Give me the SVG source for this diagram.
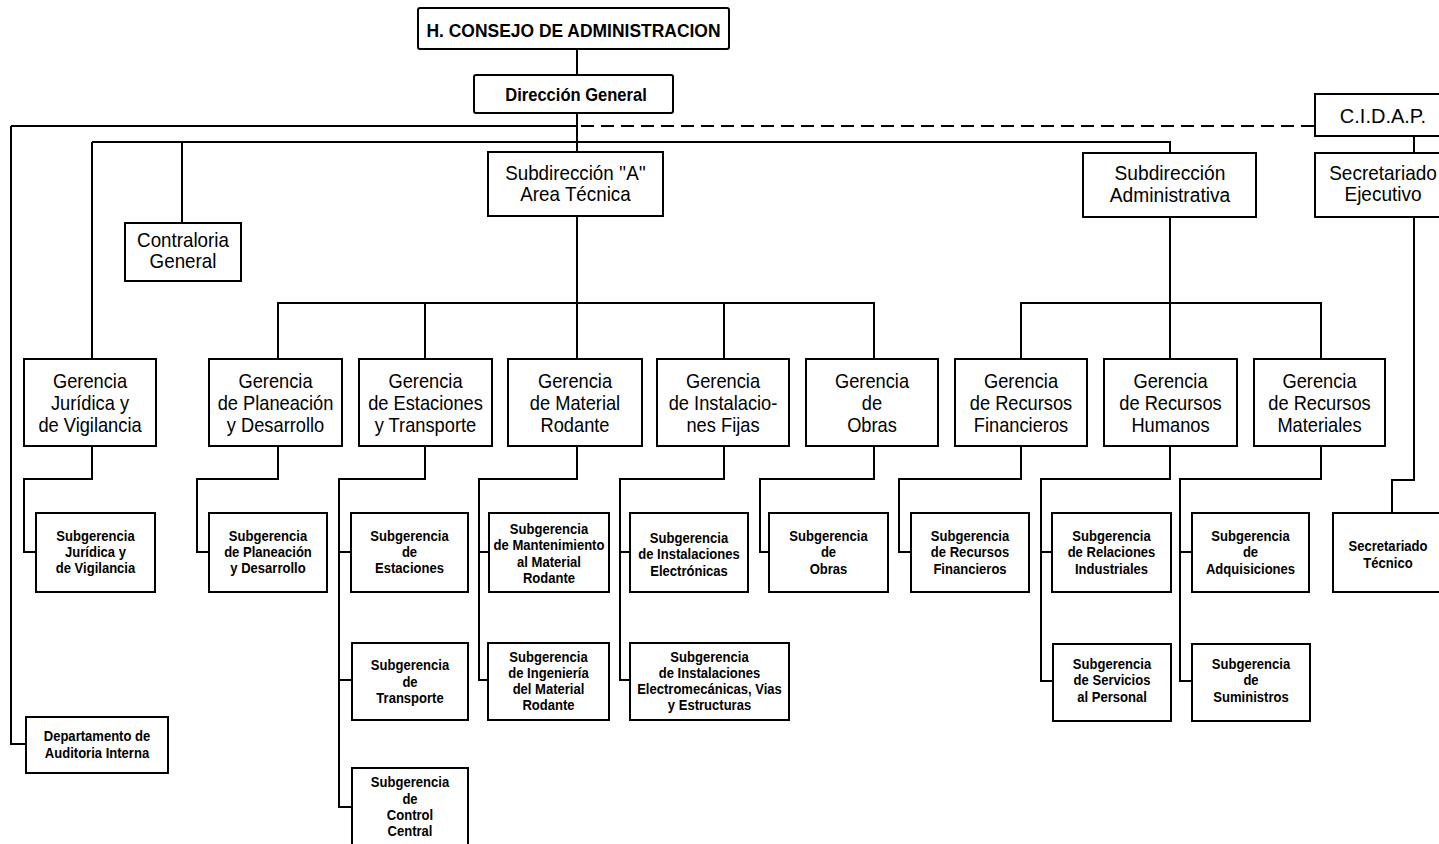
<svg xmlns="http://www.w3.org/2000/svg" width="1439" height="844" viewBox="0 0 1439 844">
<style>
rect{fill:#fff;stroke:#000;stroke-width:2}
.c path{fill:none;stroke:#000;stroke-width:2}
.c .d{stroke-dasharray:13 7}
text{font-family:"Liberation Sans",Arial,sans-serif;fill:#000;text-anchor:middle}
.t{font-size:18px;font-weight:bold}
.sd{font-size:20px}
.g{font-size:21px}
.s{font-size:15px;font-weight:bold}
</style>
<rect width="1439" height="844" style="stroke:none"/>
<g class="c">
<path d="M577,49V75M577,113V152M11,126H577M11,126V744H26M92,142H1170V153M92,142V359M182,142V223M577,216V303"/>
<path class="d" d="M581,126H1315"/>
<path d="M278,359V303H874V359M425,303V359M577,303V359M724,303V359"/>
<path d="M1170,217V303M1021,359V303H1321V359M1170,303V359"/>
<path d="M1414,136V153M1414,217V480H1392V514"/>
<path d="M92,446V479H24V552H36"/>
<path d="M278,446V479H197V552H209"/>
<path d="M425,446V479H339V807H352M339,552H351M339,680H352"/>
<path d="M577,446V479H479V680H488M479,552H489"/>
<path d="M724,446V479H620V680H630M620,552H630"/>
<path d="M874,446V479H760V552H769"/>
<path d="M1021,446V479H899V552H911"/>
<path d="M1170,446V479H1041V681H1053M1041,552H1052"/>
<path d="M1321,446V479H1180V681H1192M1180,552H1192"/>
</g>
<g id="consejo"><rect x="418" y="8" width="311" height="41" rx="2"/><text class="t" transform="matrix(0.97 0 0 1 573.5 0)"><tspan x="0" y="37">H. CONSEJO DE ADMINISTRACION</tspan></text></g>
<g id="direccion"><rect x="474" y="75" width="199" height="38" rx="2"/><text class="t" transform="matrix(0.92 0 0 1 576 0)"><tspan x="0" y="101">Dirección General</tspan></text></g>
<g id="cidap"><rect x="1315" y="94" width="136" height="42"/><text class="sd" transform="matrix(1 0 0 1 1383 0)"><tspan x="0" y="123">C.I.D.A.P.</tspan></text></g>
<g id="subA"><rect x="488" y="152" width="175" height="64"/><text class="sd" transform="matrix(0.94 0 0 1 575.5 0)"><tspan x="0" y="180">Subdirección ''A''</tspan><tspan x="0" y="201">Area Técnica</tspan></text></g>
<g id="subAdm"><rect x="1083" y="153" width="173" height="64"/><text class="sd" transform="matrix(0.96 0 0 1 1170 0)"><tspan x="0" y="180">Subdirección</tspan><tspan x="0" y="202">Administrativa</tspan></text></g>
<g id="secEj"><rect x="1315" y="153" width="136" height="64"/><text class="sd" transform="matrix(0.95 0 0 1 1383 0)"><tspan x="0" y="180">Secretariado</tspan><tspan x="0" y="201">Ejecutivo</tspan></text></g>
<g id="contraloria"><rect x="125" y="223" width="116" height="58"/><text class="sd" transform="matrix(0.94 0 0 1 183 0)"><tspan x="0" y="247">Contraloria</tspan><tspan x="0" y="268">General</tspan></text></g>

<g id="gJuridica"><rect x="24" y="359" width="132" height="87"/><text class="g" transform="matrix(0.87 0 0 1 90 0)"><tspan x="0" y="388">Gerencia</tspan><tspan x="0" y="410">Jurídica y</tspan><tspan x="0" y="432">de Vigilancia</tspan></text></g>
<g id="gPlaneacion"><rect x="209" y="359" width="133" height="87"/><text class="g" transform="matrix(0.87 0 0 1 275.5 0)"><tspan x="0" y="388">Gerencia</tspan><tspan x="0" y="410">de Planeación</tspan><tspan x="0" y="432">y Desarrollo</tspan></text></g>
<g id="gEstaciones"><rect x="359" y="359" width="133" height="87"/><text class="g" transform="matrix(0.87 0 0 1 425.5 0)"><tspan x="0" y="388">Gerencia</tspan><tspan x="0" y="410">de Estaciones</tspan><tspan x="0" y="432">y Transporte</tspan></text></g>
<g id="gMaterial"><rect x="508" y="359" width="134" height="87"/><text class="g" transform="matrix(0.87 0 0 1 575 0)"><tspan x="0" y="388">Gerencia</tspan><tspan x="0" y="410">de Material</tspan><tspan x="0" y="432">Rodante</tspan></text></g>
<g id="gInstalaciones"><rect x="657" y="359" width="132" height="87"/><text class="g" transform="matrix(0.87 0 0 1 723 0)"><tspan x="0" y="388">Gerencia</tspan><tspan x="0" y="410">de Instalacio-</tspan><tspan x="0" y="432">nes Fijas</tspan></text></g>
<g id="gObras"><rect x="806" y="359" width="132" height="87"/><text class="g" transform="matrix(0.87 0 0 1 872 0)"><tspan x="0" y="388">Gerencia</tspan><tspan x="0" y="410">de</tspan><tspan x="0" y="432">Obras</tspan></text></g>
<g id="gFinancieros"><rect x="955" y="359" width="132" height="87"/><text class="g" transform="matrix(0.87 0 0 1 1021 0)"><tspan x="0" y="388">Gerencia</tspan><tspan x="0" y="410">de Recursos</tspan><tspan x="0" y="432">Financieros</tspan></text></g>
<g id="gHumanos"><rect x="1104" y="359" width="133" height="87"/><text class="g" transform="matrix(0.87 0 0 1 1170.5 0)"><tspan x="0" y="388">Gerencia</tspan><tspan x="0" y="410">de Recursos</tspan><tspan x="0" y="432">Humanos</tspan></text></g>
<g id="gMateriales"><rect x="1254" y="359" width="131" height="87"/><text class="g" transform="matrix(0.87 0 0 1 1319.5 0)"><tspan x="0" y="388">Gerencia</tspan><tspan x="0" y="410">de Recursos</tspan><tspan x="0" y="432">Materiales</tspan></text></g>

<g id="sJuridica"><rect x="36" y="513" width="119" height="79"/><text class="s" transform="matrix(0.87 0 0 1 95.5 0)"><tspan x="0" y="541">Subgerencia</tspan><tspan x="0" y="557">Jurídica y</tspan><tspan x="0" y="573">de Vigilancia</tspan></text></g>
<g id="sPlaneacion"><rect x="209" y="513" width="118" height="79"/><text class="s" transform="matrix(0.87 0 0 1 268 0)"><tspan x="0" y="541">Subgerencia</tspan><tspan x="0" y="557">de Planeación</tspan><tspan x="0" y="573">y Desarrollo</tspan></text></g>
<g id="sEstaciones"><rect x="351" y="513" width="117" height="79"/><text class="s" transform="matrix(0.87 0 0 1 409.5 0)"><tspan x="0" y="541">Subgerencia</tspan><tspan x="0" y="557">de</tspan><tspan x="0" y="573">Estaciones</tspan></text></g>
<g id="sMantenimiento"><rect x="489" y="513" width="120" height="79"/><text class="s" transform="matrix(0.87 0 0 1 549 0)"><tspan x="0" y="534">Subgerencia</tspan><tspan x="0" y="550">de Mantenimiento</tspan><tspan x="0" y="567">al Material</tspan><tspan x="0" y="583">Rodante</tspan></text></g>
<g id="sElectronicas"><rect x="630" y="513" width="118" height="79"/><text class="s" transform="matrix(0.87 0 0 1 689 0)"><tspan x="0" y="543">Subgerencia</tspan><tspan x="0" y="559">de Instalaciones</tspan><tspan x="0" y="576">Electrónicas</tspan></text></g>
<g id="sObras"><rect x="769" y="513" width="119" height="79"/><text class="s" transform="matrix(0.87 0 0 1 828.5 0)"><tspan x="0" y="541">Subgerencia</tspan><tspan x="0" y="557">de</tspan><tspan x="0" y="574">Obras</tspan></text></g>
<g id="sFinancieros"><rect x="911" y="513" width="118" height="79"/><text class="s" transform="matrix(0.87 0 0 1 970 0)"><tspan x="0" y="541">Subgerencia</tspan><tspan x="0" y="557">de Recursos</tspan><tspan x="0" y="574">Financieros</tspan></text></g>
<g id="sRelaciones"><rect x="1052" y="513" width="119" height="79"/><text class="s" transform="matrix(0.87 0 0 1 1111.5 0)"><tspan x="0" y="541">Subgerencia</tspan><tspan x="0" y="557">de Relaciones</tspan><tspan x="0" y="574">Industriales</tspan></text></g>
<g id="sAdquisiciones"><rect x="1192" y="513" width="117" height="79"/><text class="s" transform="matrix(0.87 0 0 1 1250.5 0)"><tspan x="0" y="541">Subgerencia</tspan><tspan x="0" y="557">de</tspan><tspan x="0" y="574">Adquisiciones</tspan></text></g>
<g id="secTecnico"><rect x="1333" y="513" width="112" height="79"/><text class="s" transform="matrix(0.87 0 0 1 1388 0)"><tspan x="0" y="551">Secretariado</tspan><tspan x="0" y="568">Técnico</tspan></text></g>

<g id="sTransporte"><rect x="352" y="643" width="116" height="77"/><text class="s" transform="matrix(0.87 0 0 1 410 0)"><tspan x="0" y="670">Subgerencia</tspan><tspan x="0" y="687">de</tspan><tspan x="0" y="703">Transporte</tspan></text></g>
<g id="sIngenieria"><rect x="488" y="643" width="121" height="77"/><text class="s" transform="matrix(0.87 0 0 1 548.5 0)"><tspan x="0" y="662">Subgerencia</tspan><tspan x="0" y="678">de Ingeniería</tspan><tspan x="0" y="694">del Material</tspan><tspan x="0" y="710">Rodante</tspan></text></g>
<g id="sElectromecanicas"><rect x="630" y="643" width="159" height="77"/><text class="s" transform="matrix(0.87 0 0 1 709.5 0)"><tspan x="0" y="662">Subgerencia</tspan><tspan x="0" y="678">de Instalaciones</tspan><tspan x="0" y="694">Electromecánicas, Vias</tspan><tspan x="0" y="710">y Estructuras</tspan></text></g>
<g id="sServicios"><rect x="1053" y="644" width="118" height="77"/><text class="s" transform="matrix(0.87 0 0 1 1112 0)"><tspan x="0" y="669">Subgerencia</tspan><tspan x="0" y="685">de Servicios</tspan><tspan x="0" y="702">al Personal</tspan></text></g>
<g id="sSuministros"><rect x="1192" y="644" width="118" height="77"/><text class="s" transform="matrix(0.87 0 0 1 1251 0)"><tspan x="0" y="669">Subgerencia</tspan><tspan x="0" y="685">de</tspan><tspan x="0" y="702">Suministros</tspan></text></g>
<g id="sControl"><rect x="352" y="768" width="116" height="80"/><text class="s" transform="matrix(0.87 0 0 1 410 0)"><tspan x="0" y="787">Subgerencia</tspan><tspan x="0" y="804">de</tspan><tspan x="0" y="820">Control</tspan><tspan x="0" y="836">Central</tspan></text></g>
<g id="auditoria"><rect x="26" y="717" width="142" height="56"/><text class="s" transform="matrix(0.87 0 0 1 97 0)"><tspan x="0" y="741">Departamento de</tspan><tspan x="0" y="758">Auditoria Interna</tspan></text></g>
</svg>
